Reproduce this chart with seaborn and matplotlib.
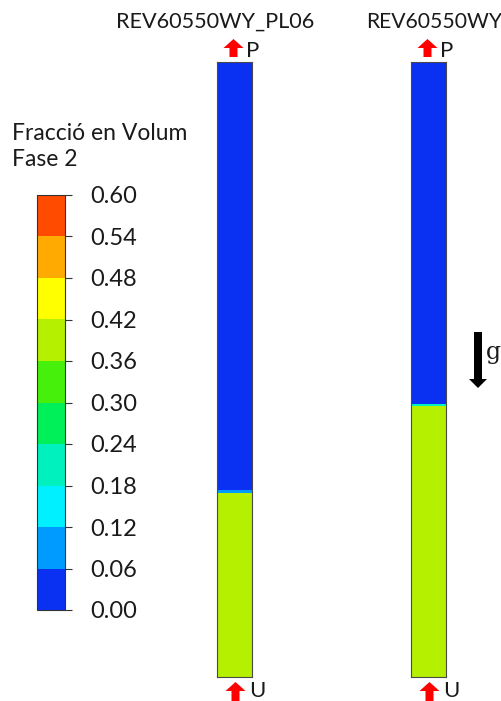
import matplotlib
matplotlib.use("Agg")
import matplotlib.pyplot as plt
import numpy as np
import pandas as pd
import seaborn as sns
from matplotlib.colors import ListedColormap
from matplotlib.patches import FancyArrow

# cases and phase 2 volume fraction
cases = ["REV60550WY_PL06", "REV60550WY"]
bed_height = [0.30, 0.44]          # part of column (from bottom) filled by phase 2
bed_fraction = [0.40, 0.40]        # volume fraction in the bed
freeboard_fraction = [0.0, 0.0]    # volume fraction above the bed
interface_fraction = [0.08, 0.20]  # thin band at the bed surface

levels = [0.00, 0.06, 0.12, 0.18, 0.24, 0.30, 0.36, 0.42, 0.48, 0.54, 0.60]
level_colors = ["#0A30F2", "#009BFF", "#00F0FF", "#00F0BE", "#00F05A",
                "#46F00A", "#B4F000", "#FFFF00", "#FFAA00", "#FF4B00"]
cbar_title = ["Fracció en Volum", "Fase 2"]

n_cells = 300


def column_field(h, bed, free, inter):
    """
    Builds the vertical profile of one column (top row first)
    """
    vals = np.full(n_cells, free, dtype=float)
    k = int(round(h * n_cells))
    vals[n_cells - k:] = bed
    vals[n_cells - k - 1] = inter
    return pd.DataFrame({"frac": vals})


sns.set_style("white")
plt.rcParams['font.family'] = ['Lato', 'DejaVu Sans']

W, H = 502, 701
fig = plt.figure(figsize=(W / 100, H / 100), dpi=100)
cmap = ListedColormap(level_colors)


def px_axes(x0, y0, x1, y1):
    return fig.add_axes([x0 / W, 1 - y1 / H, (x1 - x0) / W, (y1 - y0) / H])


cax = px_axes(37, 195, 65, 610)
col_boxes = [(217, 62, 252, 677), (411, 62, 446, 677)]

for i, box in enumerate(col_boxes):
    ax = px_axes(*box)
    df = column_field(bed_height[i], bed_fraction[i], freeboard_fraction[i], interface_fraction[i])
    sns.heatmap(df, ax=ax, cmap=cmap, vmin=levels[0], vmax=levels[-1],
                cbar=(i == 0), cbar_ax=cax if i == 0 else None,
                cbar_kws={"ticks": levels} if i == 0 else None,
                xticklabels=False, yticklabels=False)
    for s in ax.spines.values():
        s.set_visible(True)
        s.set_color("#4a4a4a")
        s.set_linewidth(0.8)
    ax.set_xlabel("")
    ax.set_ylabel("")
    if i == 0:
        cb = ax.collections[0].colorbar
        cb.set_ticks(levels)
        cb.set_ticklabels([f"{v:.2f}" for v in levels])
        cb.outline.set_edgecolor("#333333")
        cb.outline.set_linewidth(0.8)
        cax.tick_params(length=5, width=0.8, color="#333333", pad=13,
                        labelsize=17, labelcolor="#1a1a1a")

# overlay in pixel coordinates for labels and arrows
ov = fig.add_axes([0, 0, 1, 1])
ov.set_xlim(0, W)
ov.set_ylim(H, 0)
ov.axis("off")

ov.text(12, 140, cbar_title[0], fontsize=16.5, color="#1a1a1a", va="baseline")
ov.text(12, 166, cbar_title[1], fontsize=16.5, color="#1a1a1a", va="baseline")

title_x = [215, 366]
title_ha = ["center", "left"]
title_fs = [15.6, 15.2]
for i, box in enumerate(col_boxes):
    cx = (box[0] + box[2]) / 2
    ov.text(title_x[i], 28, cases[i], fontsize=title_fs[i], color="#1a1a1a",
            ha=title_ha[i], va="baseline")
    # outlet arrow (P)
    ov.add_patch(FancyArrow(cx - 1, 57, 0, -18, width=8, head_width=20,
                            head_length=9, length_includes_head=True,
                            color="#FF0000", lw=0))
    ov.text(cx + 12, 57, "P", fontsize=16, color="#1a1a1a", va="baseline")
    # inlet arrow (U)
    ov.add_patch(FancyArrow(cx + 1, 705, 0, -23, width=8, head_width=20,
                            head_length=9, length_includes_head=True,
                            color="#FF0000", lw=0))
    ov.text(cx + 15, 697, "U", fontsize=16, color="#1a1a1a", va="baseline")

# gravity
ov.add_patch(FancyArrow(478, 332, 0, 56, width=8, head_width=18,
                        head_length=9, length_includes_head=True,
                        color="black", lw=0))
ov.text(486, 359, "g", fontsize=17, family="DejaVu Serif", color="#1a1a1a",
        va="baseline")

fig.savefig("out.png", dpi=100)
